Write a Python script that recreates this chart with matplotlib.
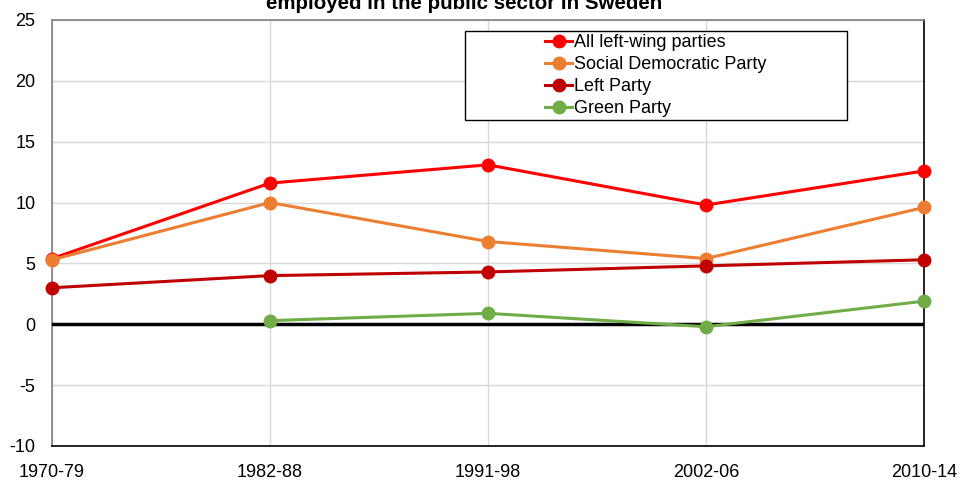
import matplotlib
matplotlib.use("Agg")
import matplotlib.pyplot as plt
import numpy as np
from matplotlib.patches import Rectangle

plt.rcParams['font.family'] = ['Liberation Sans', 'DejaVu Sans']

periods = ["1970-79", "1982-88", "1991-98", "2002-06", "2010-14"]
all_left = [5.4, 11.6, 13.1, 9.8, 12.6]
social_dem = [5.3, 10.0, 6.8, 5.4, 9.6]
left_party = [3.0, 4.0, 4.3, 4.8, 5.3]
green_party = [np.nan, 0.3, 0.9, -0.2, 1.9]
y_ticks = [-10, -5, 0, 5, 10, 15, 20, 25]

series = [
    ("All left-wing parties", all_left, "#FF0000"),
    ("Social Democratic Party", social_dem, "#ED7D31"),
    ("Left Party", left_party, "#C00000"),
    ("Green Party", green_party, "#70AD47"),
]

W, H = 960, 483
fig = plt.figure(figsize=(W / 100, H / 100), dpi=100)
ax = fig.add_axes([52 / W, 1 - 446 / H, (924 - 52) / W, (446 - 20) / H])

x = np.arange(len(periods))
handles = []
for name, vals, col in series:
    h, = ax.plot(x, vals, color=col, lw=2.2, marker='o', markersize=9,
                 label=name, zorder=4, clip_on=False)
    handles.append(h)

ax.axhline(0, color='black', lw=2.5, zorder=3)

ax.set_xlim(0, len(periods) - 1)
ax.set_ylim(-10, 25)
ax.set_yticks(y_ticks)
ax.set_yticklabels([str(t) for t in y_ticks])
ax.set_xticks(x)
ax.set_xticklabels(periods)
ax.grid(True, color='#D9D9D9', lw=1)
ax.set_axisbelow(True)
ax.tick_params(axis='both', length=0, labelsize=13, colors='black')
ax.tick_params(axis='x', pad=13)
ax.tick_params(axis='y', pad=12)

ax.spines['left'].set_color('#808080')
ax.spines['top'].set_color('#808080')
ax.spines['right'].set_color('black')
ax.spines['bottom'].set_color('black')
for s in ax.spines.values():
    s.set_linewidth(1.2)

# legend box
fig.patches.append(Rectangle((465 / W, 1 - 120 / H), (847 - 465) / W, (120 - 31) / H,
                             transform=fig.transFigure, fill=True, facecolor='white',
                             edgecolor='black', lw=1, zorder=5))
leg = fig.legend(handles=handles, loc='upper left', bbox_to_anchor=(545 / W, 1 - 34 / H),
                 frameon=False, fontsize=13, handlelength=1.5, handletextpad=0.1,
                 labelspacing=0.28, borderpad=0, borderaxespad=0)
leg.set_zorder(6)

fig.text(464 / W, 1 - 9 / H, "employed in the public sector in Sweden",
         ha='center', va='baseline', fontsize=14.8, fontweight='bold')

fig.savefig("out.png", dpi=100)
